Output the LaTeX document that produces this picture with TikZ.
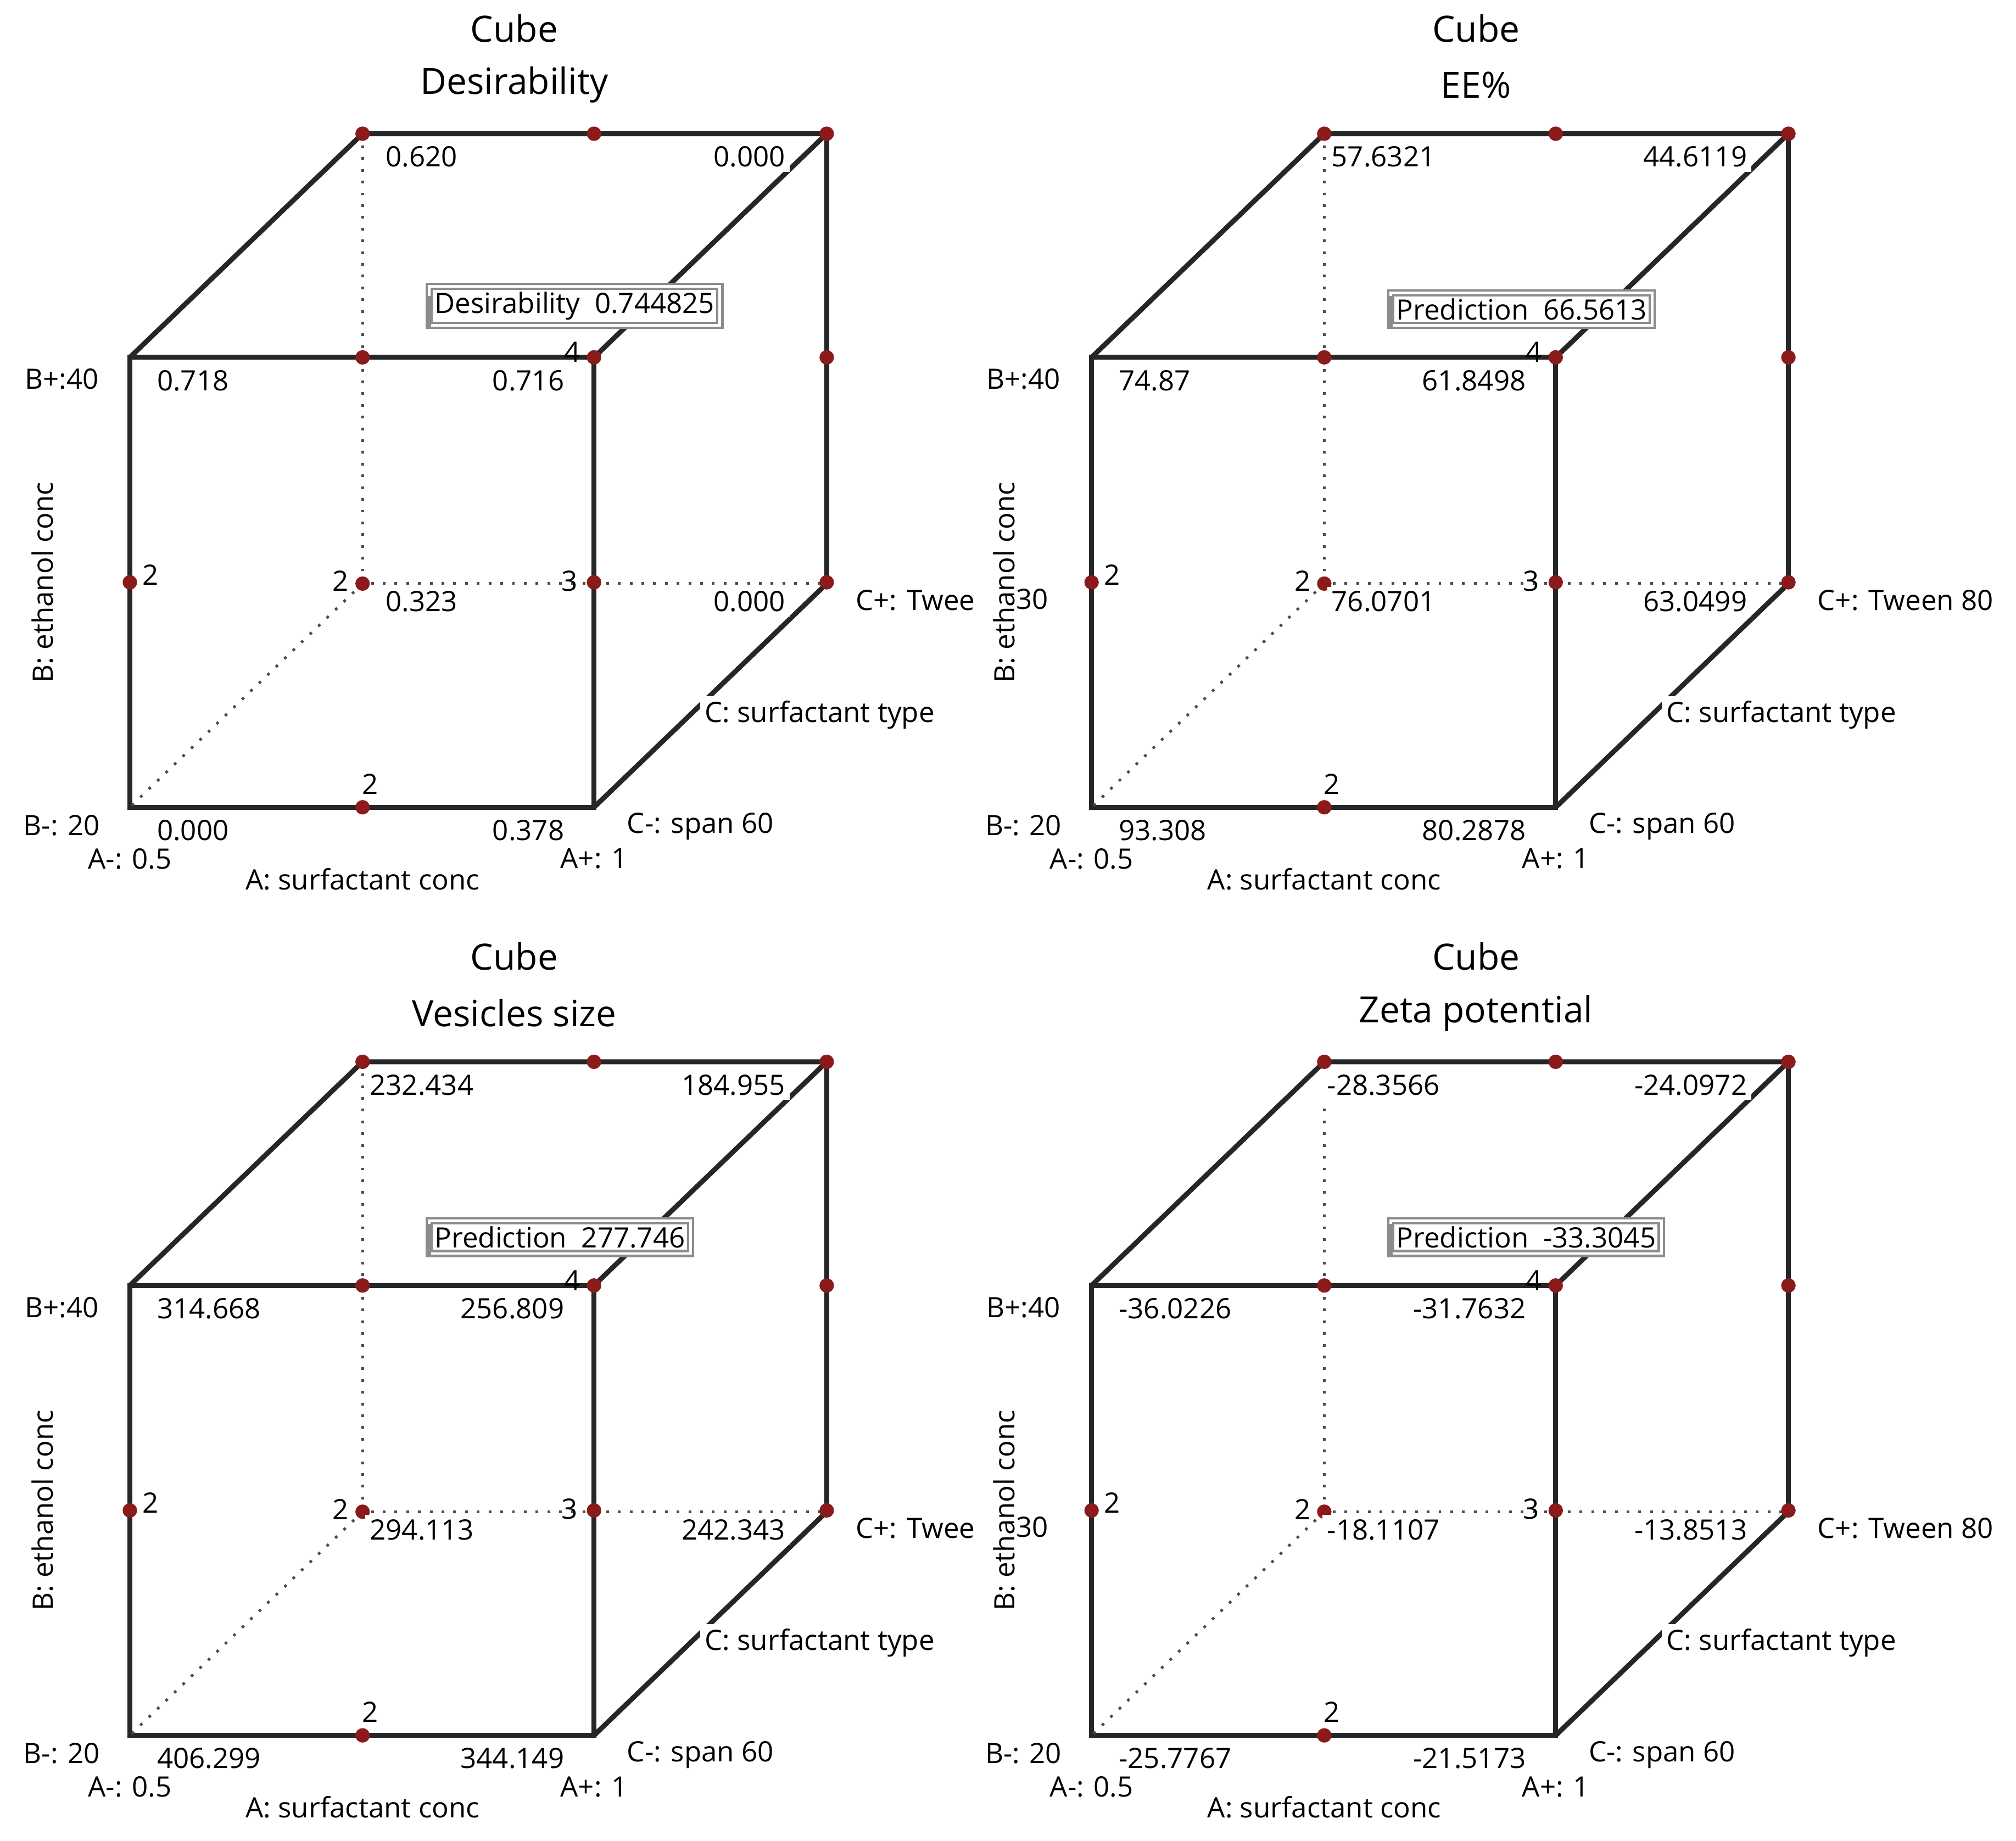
\documentclass[tikz,border=0pt]{standalone}
\usepackage{fontspec}
\setmainfont{Open Sans}
\definecolor{dotred}{HTML}{8B1A1A}
\tikzset{
 edge/.style={line width=1.1pt,draw=black!85},
 hid/.style={line width=0.6pt,dotted,draw=black!70},
 dot/.style={circle,fill=dotred,inner sep=0pt,minimum size=3.2pt},
 lab/.style={font=\fontsize{6.2}{7}\selectfont,inner sep=0pt},
 val/.style={lab,fill=white,inner sep=1pt},
 ttl/.style={font=\fontsize{8}{9}\selectfont,inner sep=0pt},
 pbox/.style={draw=black!45,double=white,double distance=0.6pt,line width=0.5pt,fill=white,font=\fontsize{6.2}{7}\selectfont,inner sep=1.2pt,anchor=south west}
}
\newcommand\ptitle{}
\newcommand\panel[9]{%
\begin{scope}[shift={(#1,#2)}]
\coordinate (fbl) at (101,628); \coordinate (fbr) at (462,628);
\coordinate (ftl) at (101,278); \coordinate (ftr) at (462,278);
\coordinate (bbl) at (282,454); \coordinate (bbr) at (643,454);
\coordinate (btl) at (282,104); \coordinate (btr) at (643,104);
\draw[edge] (ftl)--(ftr)--(fbr)--(fbl)--cycle;
\draw[edge] (ftl)--(btl)--(btr)--(bbr)--(fbr);
\draw[edge] (ftr)--(btr);
\draw[hid] (btl)--(bbl)--(bbr); \draw[hid] (bbl)--(fbl);
\foreach \p in {(282,104),(462,104),(643,104),(282,278),(462,278),(643,278),(101,453),(282,454),(462,453),(643,453),(282,628)} \node[dot] at \p {};
\node[lab] at (117,447) {2}; \node[lab] at (265,452) {2}; \node[lab] at (443,452) {3};
\node[lab] at (445,274) {4}; \node[lab] at (288,610) {2};
\node[ttl] at (400,22) {Cube}; \node[ttl] at (400,66) {\ptitle};
\node[pbox] (pb) at (333,254) {#3};
\draw[black!45,line width=1.2pt] (pb.south west)--++(0,-24);
\node[val] at (328,122) {#4}; \node[val,anchor=east] at (615,122) {#5};
\node[val,anchor=west] at (118,296) {#6}; \node[val,anchor=east] at (443,296) {#7};
\node[val] at (328,468) {#8}; \node[val,anchor=east] at (615,468) {#9};
\node[val,anchor=west] at (118,646) {\vseven}; \node[val,anchor=east] at (443,646) {\veight};
\node[lab] at (48,295) {B+:40}; \node[lab] at (48,642) {B-: 20};
\node[lab] at (101,668) {A-: 0.5}; \node[lab] at (462,668) {A+: 1};
\node[lab] at (282,684) {A: surfactant conc};
\node[lab,anchor=west] at (487,643) {C-: span 60};
\node[val,anchor=west] at (544,556) {C: surfactant type};
\node[lab,rotate=90] at (33,453) {B: ethanol conc};
\node[lab,anchor=west] at (665,467) {\ctext};
\end{scope}}
\begin{document}
\begin{tikzpicture}[x=0.01cm,y=-0.01cm]
\useasboundingbox[fill=white] (0,0) rectangle (1568,1432);
\def\ctext{C+: Twee}
\renewcommand\ptitle{Desirability}\def\vseven{0.000}\def\veight{0.378}
\panel{0}{0}{Desirability\ \ 0.744825}{0.620}{0.000}{0.718}{0.716}{0.323}{0.000}
\renewcommand\ptitle{Vesicles size}\def\vseven{406.299}\def\veight{344.149}
\panel{0}{722}{Prediction\ \ 277.746}{232.434}{184.955}{314.668}{256.809}{294.113}{242.343}
\def\ctext{C+: Tween 80}
\renewcommand\ptitle{EE\%}\def\vseven{93.308}\def\veight{80.2878}
\panel{748}{0}{Prediction\ \ 66.5613}{57.6321}{44.6119}{74.87}{61.8498}{76.0701}{63.0499}
\node[lab] (t1) at (803,466) {30};
\renewcommand\ptitle{Zeta potential}\def\vseven{-25.7767}\def\veight{-21.5173}
\panel{748}{722}{Prediction\ \ -33.3045}{-28.3566}{-24.0972}{-36.0226}{-31.7632}{-18.1107}{-13.8513}
\node[lab] (t2) at (803,1188) {30};
\end{tikzpicture}
\end{document}
